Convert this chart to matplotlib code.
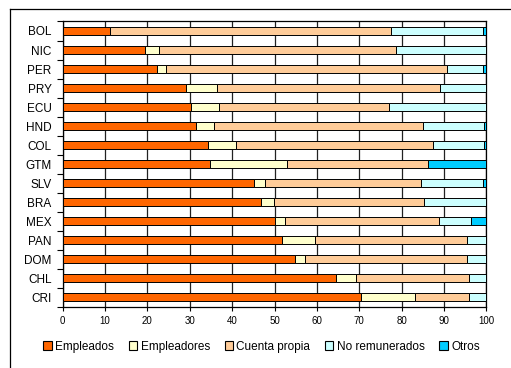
import matplotlib
matplotlib.use("Agg")
import matplotlib.pyplot as plt
import numpy as np
from matplotlib.patches import Patch
from matplotlib.lines import Line2D

plt.rcParams["font.family"] = ["Liberation Sans", "DejaVu Sans"]

countries = ["BOL", "NIC", "PER", "PRY", "ECU", "HND", "COL", "GTM",
             "SLV", "BRA", "MEX", "PAN", "DOM", "CHL", "CRI"]
# shares (percent of employed)
empleados = [11.2, 19.4, 22.3, 29.0, 30.2, 31.5, 34.2, 34.7,
             45.2, 46.8, 50.2, 51.7, 54.8, 64.6, 70.3]
empleadores = [0.0, 3.4, 2.2, 7.4, 6.7, 4.2, 6.6, 18.3,
               2.6, 3.0, 2.2, 7.9, 2.4, 4.6, 12.9]
cuenta_propia = [66.2, 55.8, 66.3, 52.7, 40.2, 49.3, 46.7, 33.2,
                 36.7, 35.5, 36.4, 35.9, 38.2, 26.6, 12.6]
no_remunerados = [21.7, 21.4, 8.3, 10.9, 22.9, 14.5, 12.0, 0.0,
                  14.8, 14.7, 7.5, 4.5, 4.6, 4.2, 4.2]
otros = [0.9, 0.0, 0.9, 0.0, 0.0, 0.5, 0.5, 13.8,
         0.7, 0.0, 3.7, 0.0, 0.0, 0.0, 0.0]

series = [
    ("Empleados", empleados, "#FF6600"),
    ("Empleadores", empleadores, "#FFFFCC"),
    ("Cuenta propia", cuenta_propia, "#FFCC99"),
    ("No remunerados", no_remunerados, "#CCFFFF"),
    ("Otros", otros, "#00CCFF"),
]

fig = plt.figure(figsize=(5.11, 3.68), dpi=100)
ax = fig.add_axes([0.1227, 0.1666, 0.829, 0.775])

y = np.arange(len(countries))
left = np.zeros(len(countries))
for name, vals, color in series:
    vals = np.array(vals)
    ax.barh(y, vals, left=left, height=0.42, color=color,
            edgecolor="black", linewidth=0.7, zorder=3)
    left += vals

ax.set_xlim(0, 100)
ax.set_ylim(len(countries) - 0.5, -0.5)
ax.set_xticks(np.arange(0, 101, 10))
ax.tick_params(axis="x", labelsize=7, length=3, width=0.8, pad=4,
               direction="out", color="black")
ax.set_yticks(y)
ax.set_yticklabels(countries, fontsize=8.5)
ax.tick_params(axis="y", length=0, pad=8)
ax.set_yticks(np.arange(-0.5, len(countries), 1), minor=True)
ax.tick_params(axis="y", which="minor", length=4, width=0.8, direction="out")
ax.xaxis.grid(True, color="#222222", linewidth=0.9, zorder=0)
ax.set_axisbelow(True)
for sp in ax.spines.values():
    sp.set_color("black")
    sp.set_linewidth(0.9)

handles = [Patch(facecolor=c, edgecolor="black", linewidth=0.8, label=n)
           for n, _, c in series]
fig.legend(handles=handles, loc="center", bbox_to_anchor=(0.512, 0.058),
           ncol=5, frameon=False, fontsize=8.5, handlelength=0.7,
           handleheight=0.7, handletextpad=0.3, columnspacing=1.25)

# outer chart border (left and top edges visible)
fig.add_artist(Line2D([10 / 511, 10 / 511], [0, 1 - 9 / 368], color="black",
                      linewidth=0.9, transform=fig.transFigure))
fig.add_artist(Line2D([10 / 511, 1], [1 - 9 / 368, 1 - 9 / 368], color="black",
                      linewidth=0.9, transform=fig.transFigure))

fig.savefig("out.png", dpi=100)
